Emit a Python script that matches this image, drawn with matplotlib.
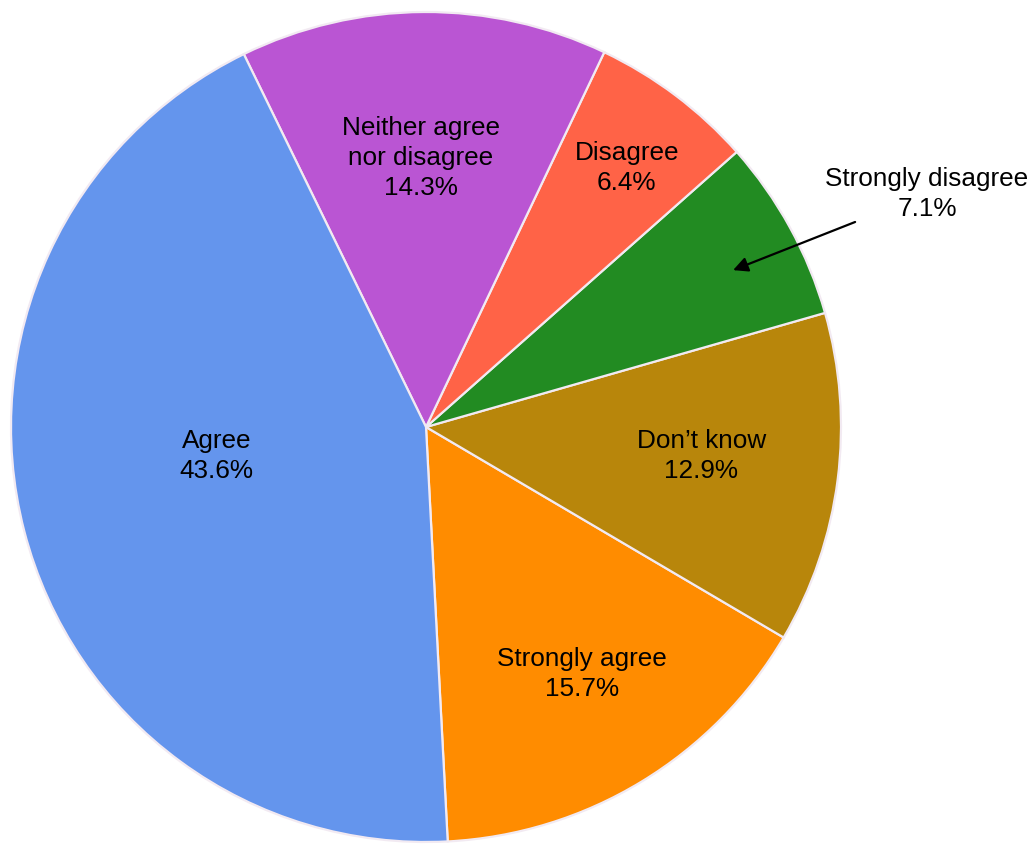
import matplotlib
matplotlib.use("Agg")
import matplotlib.pyplot as plt

plt.rcParams['font.family'] = ['Liberation Sans', 'DejaVu Sans']

# Survey responses, in drawing order (counter-clockwise from the bottom)
categories = ["Strongly agree", "Don\u2019t know", "Strongly disagree",
              "Disagree", "Neither agree\nnor disagree", "Agree"]
shares = [15.7, 12.9, 7.1, 6.4, 14.3, 43.6]

colors = ["#FF8C00", "#B8860B", "#228B22", "#FF6347", "#BA55D3", "#6495ED"]

# label block centres (axes data units, pie radius = 1)
label_pos = [(0.376, -0.595), (0.663, -0.070), (1.207, 0.561),
             (0.484, 0.624), (-0.012, 0.648), (-0.504, -0.070)]

W, H = 1034, 844
R_PX = 415
CX, CY = 426, 427

fig = plt.figure(figsize=(W / 100, H / 100), dpi=100)
ax = fig.add_axes([0, 0, 1, 1])

ax.pie(shares, colors=colors, startangle=-87, counterclock=True, radius=1.0,
       wedgeprops=dict(edgecolor="#F2EAF2", linewidth=1.6))

for name, val, (x, y) in zip(categories, shares, label_pos):
    ax.text(x, y, f"{name}\n{val:.1f}%", ha="center", va="center",
            fontsize=18.8, color="black", linespacing=1.3)

# pointer for the small outside-labelled slice
ax.annotate("", xy=(0.740, 0.378), xytext=(1.034, 0.494),
            arrowprops=dict(arrowstyle="-|>", color="black", lw=1.6,
                            mutation_scale=22, shrinkA=0, shrinkB=0))

ax.set_xlim(-CX / R_PX, (W - CX) / R_PX)
ax.set_ylim(-(H - CY) / R_PX, CY / R_PX)
ax.set_aspect("equal")
ax.axis("off")

fig.savefig("out.png", dpi=100, facecolor="white")
